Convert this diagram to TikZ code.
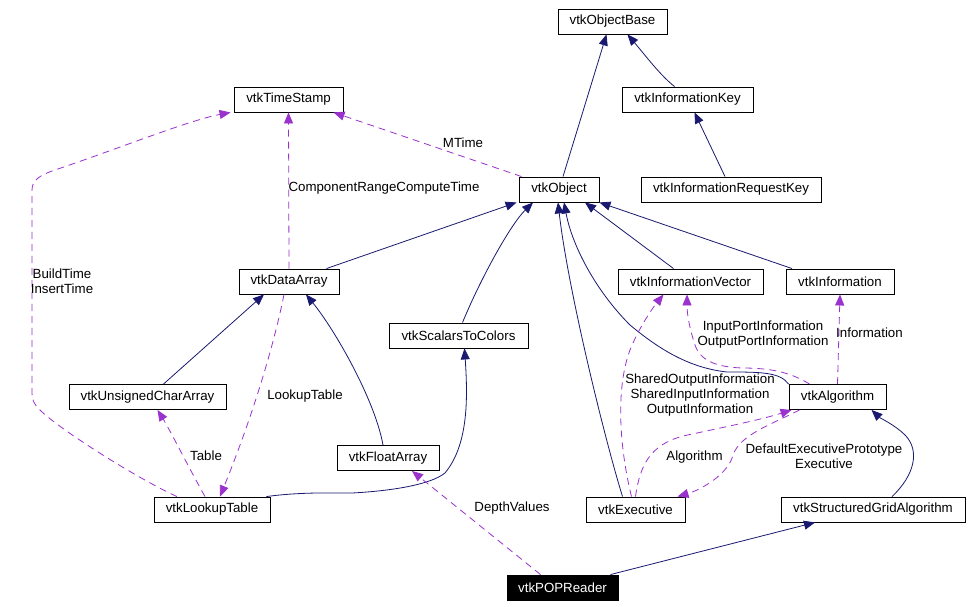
\documentclass[tikz,border=0pt]{standalone}
\usepackage{fontspec}
\setmainfont{Liberation Sans}
\usetikzlibrary{arrows.meta}
\definecolor{navy}{HTML}{191970}
\definecolor{orchid}{HTML}{9A32CD}
\begin{document}
\begin{tikzpicture}[x=1pt,y=-1pt,
  cls/.style={draw=black, line width=0.9pt, minimum height=25pt, inner sep=0pt, font=\fontsize{13.3}{15}\selectfont},
  inh/.style={draw=navy, line width=0.8pt, -{Triangle[length=11pt,width=9pt]}},
  use/.style={draw=orchid, line width=0.8pt, dash pattern=on 7pt off 5pt, -{Triangle[length=11pt,width=9pt]}},
  lbl/.style={font=\fontsize{13.3}{14.8}\selectfont, align=center, inner sep=0pt, text=black}]
\useasboundingbox (0,0) rectangle (972,607);
\fill[white] (0,0) rectangle (972,607);
% classes
\node[cls, minimum width=109pt] (base) at (612.5,21.5) {vtkObjectBase};
\node[cls, minimum width=131pt] (ikey) at (687.5,99.5) {vtkInformationKey};
\node[cls, minimum width=109pt] (ts) at (288.5,99.5) {vtkTimeStamp};
\node[cls, minimum width=80pt] (obj) at (559,189.5) {vtkObject};
\node[cls, minimum width=180pt] (ireq) at (731,189.5) {vtkInformationRequestKey};
\node[cls, minimum width=145pt] (ivec) at (690.5,281.5) {vtkInformationVector};
\node[cls, minimum width=108pt] (info) at (840,281.5) {vtkInformation};
\node[cls, minimum width=100pt] (da) at (289,281.5) {vtkDataArray};
\node[cls, minimum width=139pt] (s2c) at (458.5,335.5) {vtkScalarsToColors};
\node[cls, minimum width=157pt] (uca) at (147.5,397) {vtkUnsignedCharArray};
\node[cls, minimum width=97pt] (alg) at (837.5,397) {vtkAlgorithm};
\node[cls, minimum width=102pt] (fa) at (388,458) {vtkFloatArray};
\node[cls, minimum width=116pt] (lut) at (212,509.5) {vtkLookupTable};
\node[cls, minimum width=99pt] (exec) at (635.5,509.5) {vtkExecutive};
\node[cls, minimum width=184pt] (sga) at (873,509.5) {vtkStructuredGridAlgorithm};
\node[cls, minimum width=111pt, fill=black, text=white] (pop) at (562.5,587.5) {vtkPOPReader};
% inheritance
\draw[inh] ([xshift=4pt]obj.north) -- ([xshift=-6pt]base.south);
\draw[inh] ([xshift=-13pt]ikey.north) .. controls (660,75) and (645,55) .. ([xshift=15pt]base.south);
\draw[inh] ([xshift=-6pt]ireq.north) -- ([xshift=7pt]ikey.south);
\draw[inh] ([xshift=-13pt]da.north east) -- ([xshift=-2pt]obj.south west);
\draw[inh] ([xshift=4pt]s2c.north) .. controls (480,280) and (510,225) .. ([xshift=-26pt]obj.south);
\draw[inh] ([xshift=-13pt]exec.north) .. controls (605,440) and (568,290) .. ([xshift=-1pt]obj.south);
\draw[inh] (alg.north west) .. controls (780,372) and (760,372) .. (727,372) .. controls (690,368) and (660,350) .. (630,325) .. controls (595,290) and (572,245) .. ([xshift=5pt]obj.south);
\draw[inh] ([xshift=-17pt]ivec.north) -- ([xshift=26pt]obj.south);
\draw[inh] ([xshift=-48pt]info.north) -- (obj.south east);
\draw[inh] ([xshift=16pt]uca.north) -- ([xshift=-25pt]da.south);
\draw[inh] ([xshift=-5pt]fa.north) .. controls (375,400) and (335,330) .. ([xshift=17pt]da.south);
\draw[inh] ([xshift=-4pt]lut.north east) .. controls (300,492) and (330,493) .. (352,493) .. controls (390,491) and (430,485) .. (445,473) .. controls (468,445) and (468,400) .. ([xshift=6pt]s2c.south);
\draw[inh] ([xshift=19pt]sga.north) .. controls (915,475) and (920,450) .. (905,435) .. controls (895,425) and (880,418) .. ([xshift=34pt]alg.south);
\draw[inh] ([xshift=48pt]pop.north) -- ([xshift=-58pt]sga.south);
% usage
\draw[use] ([xshift=3pt]obj.north west) -- ([xshift=45pt]ts.south);
\node[lbl] (lmtime) at (463,143) {MTime};
\draw[use] (da.north) -- (ts.south);
\node[lbl] (lcrct) at (384,188) {ComponentRangeComputeTime};
\draw[use] ([xshift=-35pt]lut.north) .. controls (140,480) and (60,430) .. (40,410) .. controls (33,403) and (32,400) .. (32,390) -- (32,190) .. controls (32,180) and (40,175) .. (55,170) .. controls (120,148) and (190,120) .. ([xshift=-3pt]ts.south west);
\node[lbl] (lbuild) at (62,281) {BuildTime\\InsertTime};
\draw[use] ([xshift=-7pt]lut.north) .. controls (190,470) and (170,430) .. ([xshift=10pt]uca.south);
\node[lbl] (ltable) at (206,456) {Table};
\draw[use] ([xshift=-5pt]da.south) .. controls (275,340) and (255,410) .. ([xshift=8pt]lut.north);
\node[lbl] (llut) at (305,396) {LookupTable};
\draw[use] ([xshift=-22pt]pop.north) -- ([xshift=24pt]fa.south);
\node[lbl] (ldepth) at (512,508) {DepthValues};
\draw[use] ([xshift=-28pt]alg.north) .. controls (790,372) and (770,368) .. (742,368) .. controls (715,367) and (700,360) .. (695,345) .. controls (690,330) and (687,315) .. ([xshift=-3.5pt]ivec.south);
\node[lbl] (lport) at (763,334.5) {InputPortInformation\\OutputPortInformation};
\draw[use] ([xshift=-4pt]exec.north) .. controls (620,450) and (615,390) .. (630,350) .. controls (640,325) and (655,305) .. ([xshift=-27pt]ivec.south);
\node[lbl] (lshared) at (700,395) {SharedOutputInformation\\SharedInputInformation\\OutputInformation};
\draw[use] (alg.north) -- (info.south);
\node[lbl] (linfo) at (869.5,333) {Information};
\draw[use] (exec.north) .. controls (640,465) and (650,445) .. (683,436) .. controls (720,428) and (760,420) .. ([xshift=3pt]alg.south west);
\node[lbl] (lalg) at (694.5,457) {Algorithm};
\draw[use] ([xshift=11pt]alg.south west) .. controls (770,425) and (740,435) .. (733,455) .. controls (728,475) and (700,490) .. ([xshift=42pt]exec.north);
\node[lbl] (ldef) at (824,456.5) {DefaultExecutivePrototype\\Executive};
\end{tikzpicture}
\end{document}
